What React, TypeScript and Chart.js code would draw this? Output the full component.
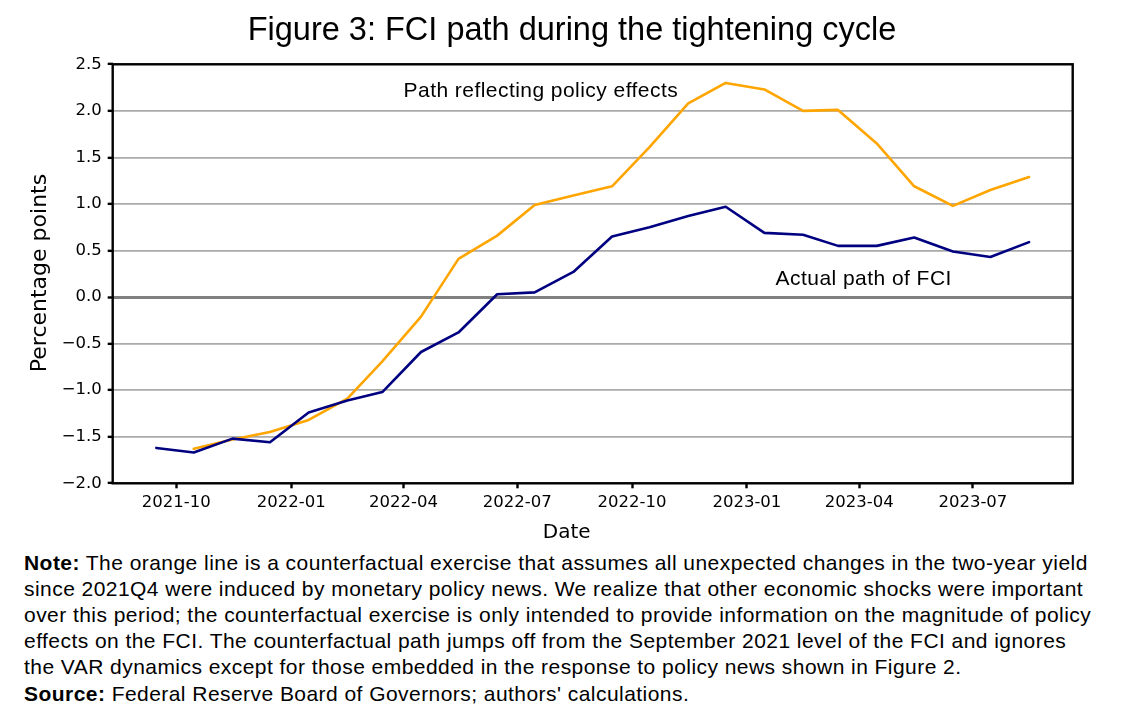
import React, { useEffect, useRef } from 'react';
import { Chart, registerables } from 'chart.js';

Chart.register(...registerables);

const DAY = 86400000;

// Monthly observations (plotted mid-month)
const months = [
  '2021-09', '2021-10', '2021-11', '2021-12',
  '2022-01', '2022-02', '2022-03', '2022-04', '2022-05', '2022-06',
  '2022-07', '2022-08', '2022-09', '2022-10', '2022-11', '2022-12',
  '2023-01', '2023-02', '2023-03', '2023-04', '2023-05', '2023-06',
  '2023-07', '2023-08',
];

// Actual path of FCI (navy)
const actualFCI = [
  -1.62, -1.67, -1.52, -1.56,
  -1.24, -1.11, -1.02, -0.59, -0.38, 0.03,
  0.05, 0.27, 0.65, 0.75, 0.87, 0.97,
  0.69, 0.67, 0.55, 0.55, 0.64, 0.49,
  0.43, 0.59,
];

// Path reflecting policy effects (orange)
const policyPath: (number | null)[] = [
  null, -1.63, -1.53, -1.45,
  -1.32, -1.09, -0.69, -0.21, 0.41, 0.66,
  0.99, 1.09, 1.19, 1.61, 2.08, 2.30,
  2.23, 2.00, 2.01, 1.65, 1.19, 0.98,
  1.15, 1.29,
];

const xTickMonths = ['2021-10', '2022-01', '2022-04', '2022-07', '2022-10', '2023-01', '2023-04', '2023-07'];
const yMin = -2.0;
const yMax = 2.5;
const yStep = 0.5;

const annotationTexts = ['Path reflecting policy effects', 'Actual path of FCI'];
const annotationDates = ['2022-04-01', '2023-01-24'];
const annotationValues = [2.15, 0.13];

const titleText = 'Figure 3: FCI path during the tightening cycle';
const yTitle = 'Percentage points';
const xTitle = 'Date';

const noteLines: [string, string][] = [
  ['Note:', ' The orange line is a counterfactual exercise that assumes all unexpected changes in the two-year yield'],
  ['', 'since 2021Q4 were induced by monetary policy news. We realize that other economic shocks were important'],
  ['', 'over this period; the counterfactual exercise is only intended to provide information on the magnitude of policy'],
  ['', 'effects on the FCI. The counterfactual path jumps off from the September 2021 level of the FCI and ignores'],
  ['', 'the VAR dynamics except for those embedded in the response to policy news shown in Figure 2.'],
  ['Source:', " Federal Reserve Board of Governors; authors' calculations."],
];

function dayOf(s: string, defDay = 15): number {
  const p = s.split('-').map(Number);
  return Date.UTC(p[0], p[1] - 1, p.length > 2 ? p[2] : defDay) / DAY;
}

function fmtMonth(v: number): string {
  const d = new Date(v * DAY);
  const m = d.getUTCMonth() + 1;
  return `${d.getUTCFullYear()}-${m < 10 ? '0' + m : m}`;
}

const SANS = '"Liberation Sans", Arial, Helvetica, sans-serif';
const DJV = '"DejaVu Sans", sans-serif';

const CANVAS_W = 1132;
const CANVAS_H = 545;

export default function App() {
  const ref = useRef<HTMLCanvasElement | null>(null);

  useEffect(() => {
    if (!ref.current) return;
    const xs = months.map((m) => dayOf(m));
    const first = xs[0];
    const last = xs[xs.length - 1];
    const span = last - first;
    const xMin = first - 0.05 * span;
    const xMax = last + 0.05 * span;

    const decor = {
      id: 'decor',
      afterDatasetsDraw(chart: any) {
        const { ctx, chartArea: a, scales } = chart;
        ctx.save();
        ctx.strokeStyle = '#000';
        ctx.lineWidth = 2.4;
        ctx.strokeRect(a.left, a.top, a.right - a.left, a.bottom - a.top);
        ctx.fillStyle = '#000';
        ctx.font = `21px ${SANS}`;
        (ctx as any).letterSpacing = '0.45px';
        ctx.textAlign = 'left';
        ctx.textBaseline = 'alphabetic';
        annotationTexts.forEach((t, i) => {
          ctx.fillText(
            t,
            scales.x.getPixelForValue(dayOf(annotationDates[i])),
            scales.y.getPixelForValue(annotationValues[i])
          );
        });
        ctx.restore();
      },
      afterDraw(chart: any) {
        const { ctx } = chart;
        ctx.save();
        ctx.fillStyle = '#000';
        ctx.textBaseline = 'alphabetic';
        ctx.textAlign = 'center';
        ctx.font = `32.5px ${SANS}`;
        ctx.fillText(titleText, 572, 39.5);
        ctx.font = `20px ${DJV}`;
        ctx.fillText(xTitle, 566.7, 538.3);
        ctx.translate(46, 273);
        ctx.rotate(-Math.PI / 2);
        ctx.font = `22px ${DJV}`;
        ctx.fillText(yTitle, 0, 0);
        ctx.restore();
      },
    };

    const chart = new Chart(ref.current, {
      type: 'line',
      data: {
        datasets: [
          {
            label: 'Actual path of FCI',
            data: xs.map((x, i) => ({ x, y: actualFCI[i] })),
            borderColor: '#000080',
            borderWidth: 2.6,
            pointRadius: 0,
            tension: 0,
            borderJoinStyle: 'round',
            borderCapStyle: 'round',
            fill: false,
          },
          {
            label: 'Path reflecting policy effects',
            data: xs.map((x, i) => ({ x, y: policyPath[i] })),
            borderColor: '#FFA500',
            borderWidth: 2.6,
            pointRadius: 0,
            tension: 0,
            borderJoinStyle: 'round',
            borderCapStyle: 'round',
            fill: false,
          },
        ],
      },
      options: {
        animation: false,
        responsive: false,
        devicePixelRatio: 1,
        layout: { padding: { top: 64.3, right: 59.3, left: 0, bottom: 0 } },
        plugins: {
          legend: { display: false },
          title: { display: false },
          tooltip: { enabled: false },
        },
        scales: {
          x: {
            type: 'linear',
            min: xMin,
            max: xMax,
            afterFit(scale: any) {
              scale.height = CANVAS_H - 483.3;
            },
            afterBuildTicks(scale: any) {
              scale.ticks = xTickMonths.map((m) => ({ value: dayOf(m, 1) }));
            },
            border: { display: false },
            grid: {
              drawOnChartArea: false,
              drawTicks: true,
              tickLength: 5,
              tickWidth: 2.4,
              tickColor: '#000',
            },
            ticks: {
              autoSkip: false,
              maxRotation: 0,
              padding: 5,
              color: '#000',
              font: { family: 'DejaVu Sans', size: 16.5 },
              callback: (v: any) => fmtMonth(Number(v)),
            },
          },
          y: {
            type: 'linear',
            min: yMin,
            max: yMax,
            afterFit(scale: any) {
              scale.width = 112.7;
            },
            border: { display: false },
            grid: {
              drawTicks: true,
              tickLength: 5,
              tickWidth: 2.4,
              tickColor: '#000',
              color: (c: any) => (c.tick && Math.abs(c.tick.value) < 1e-9 ? '#808080' : '#aaaaaa'),
              lineWidth: (c: any) => (c.tick && Math.abs(c.tick.value) < 1e-9 ? 3 : 1.7),
            },
            ticks: {
              stepSize: yStep,
              padding: 6,
              color: '#000',
              font: { family: 'DejaVu Sans', size: 16.5 },
              callback: (v: any) => {
                const n = Number(v);
                return (n < 0 ? '\u2212' : '') + Math.abs(n).toFixed(1);
              },
            },
          },
        },
      } as any,
      plugins: [decor],
    });
    return () => chart.destroy();
  }, []);

  return (
    <div
      style={{
        position: 'fixed',
        left: 0,
        top: 0,
        width: CANVAS_W,
        height: 717,
        background: '#fff',
        overflow: 'hidden',
      }}
    >
      <canvas
        ref={ref}
        width={CANVAS_W}
        height={CANVAS_H}
        style={{ position: 'absolute', left: 0, top: 0, width: CANVAS_W, height: CANVAS_H }}
      />
      <div
        style={{
          position: 'absolute',
          left: 24,
          top: 549.6,
          fontFamily: SANS,
          fontSize: 21,
          letterSpacing: '0.45px',
          lineHeight: '26.2px',
          color: '#000',
          whiteSpace: 'nowrap',
        }}
      >
        {noteLines.map(([b, t], i) => (
          <div key={i}>
            {b ? <b>{b}</b> : null}
            {t}
          </div>
        ))}
      </div>
    </div>
  );
}
